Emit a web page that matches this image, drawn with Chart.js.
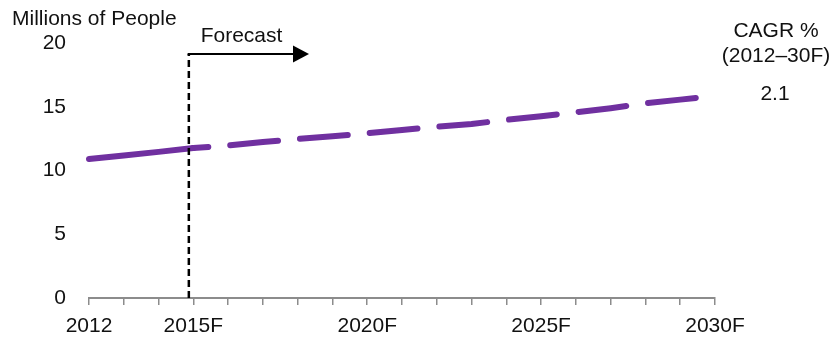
<!DOCTYPE html>
<html>
<head>
<meta charset="utf-8">
<script src="https://cdn.jsdelivr.net/npm/chart.js@4.4.1/dist/chart.umd.min.js"></script>
<style>
  html, body { margin: 0; padding: 0; background: #ffffff; }
  #wrap { position: relative; width: 833px; height: 341px; }
</style>
</head>
<body>
<div id="wrap"><canvas id="c" width="833" height="341"></canvas></div>
<script>
// ---- data ----
const years = ['2012','2013','2014','2015','2016','2017','2018','2019','2020','2021','2022','2023','2024','2025','2026','2027','2028','2029','2030'];
const tickLabels = ['2012','','','2015F','','','','','2020F','','','','','2025F','','','','','2030F'];
const people = [10.9, 11.18, 11.46, 11.76, 11.96, 12.23, 12.47, 12.68, 12.92, 13.18, 13.44, 13.65, 13.97, 14.26, 14.57, 14.89, 15.27, 15.56, 15.86];
const yTicks = [0, 5, 10, 15, 20];
const forecastStartIndex = 3;
const yTitle = 'Millions of People';
const forecastLabel = 'Forecast';
const cagrLines = ['CAGR %', '(2012\u201330F)'];
const cagrValue = '2.1';

const FONT = '"Liberation Sans", Arial, sans-serif';
const FS = 21;
const TEXT = '#111111';
const PURPLE = '#7030A0';
const GRAY = '#8c8c8c';

const annotations = {
  id: 'annotations',
  afterDatasetsDraw(chart) {
    const ctx = chart.ctx;
    const xs = chart.scales.x;
    const ys = chart.scales.y;
    ctx.save();
    // vertical dashed forecast divider
    const vx = xs.getPixelForValue(forecastStartIndex) - 4.5;
    const topY = 54;
    ctx.strokeStyle = '#000';
    ctx.lineWidth = 2.5;
    ctx.setLineDash([7, 4]);
    ctx.beginPath();
    ctx.moveTo(vx, ys.getPixelForValue(0));
    ctx.lineTo(vx, topY);
    ctx.stroke();
    // arrow
    ctx.setLineDash([]);
    ctx.lineWidth = 2;
    ctx.beginPath();
    ctx.moveTo(vx - 1.2, topY);
    ctx.lineTo(295, topY);
    ctx.stroke();
    ctx.fillStyle = '#000';
    ctx.beginPath();
    ctx.moveTo(293, topY - 8.5);
    ctx.lineTo(309, topY);
    ctx.lineTo(293, topY + 8.5);
    ctx.closePath();
    ctx.fill();
    // texts
    ctx.fillStyle = TEXT;
    ctx.font = FS + 'px ' + FONT;
    ctx.textBaseline = 'alphabetic';
    ctx.textAlign = 'center';
    ctx.fillText(forecastLabel, 241.5, 41.5);
    ctx.textAlign = 'left';
    ctx.fillText(yTitle, 12, 25);
    ctx.textAlign = 'center';
    ctx.fillText(cagrLines[0], 776, 36.5);
    ctx.fillText(cagrLines[1], 776, 61.5);
    ctx.fillText(cagrValue, 775, 100);
    ctx.restore();
  }
};

new Chart(document.getElementById('c'), {
  type: 'line',
  data: {
    labels: years,
    datasets: [{
      data: people,
      borderColor: PURPLE,
      borderWidth: 6,
      borderCapStyle: 'round',
      borderJoinStyle: 'round',
      pointRadius: 0,
      tension: 0,
      fill: false,
      segment: {
        borderDash: c => c.p0DataIndex >= forecastStartIndex ? [48, 22] : undefined,
        borderDashOffset: c => c.p0DataIndex >= forecastStartIndex ? 33 : 0
      }
    }]
  },
  options: {
    responsive: false,
    animation: false,
    devicePixelRatio: 1,
    layout: { padding: { left: 0, right: 118, top: 43, bottom: 0 } },
    plugins: { legend: { display: false }, tooltip: { enabled: false }, title: { display: false } },
    scales: {
      x: {
        type: 'category',
        offset: false,
        afterFit(s) { s.height = 43; },
        border: { display: true, color: GRAY, width: 2 },
        grid: { display: true, drawOnChartArea: false, drawTicks: true, tickLength: 7, color: GRAY, lineWidth: 1.5 },
        ticks: {
          autoSkip: false, maxRotation: 0, minRotation: 0, padding: 9,
          color: TEXT, font: { family: FONT, size: FS },
          callback: (v, i) => tickLabels[i]
        }
      },
      y: {
        min: 0, max: 20,
        afterFit(s) { s.width = 89; },
        afterBuildTicks(s) { s.ticks = yTicks.map(v => ({ value: v })); },
        border: { display: false },
        grid: { display: false, drawTicks: false },
        ticks: { padding: 23, color: TEXT, font: { family: FONT, size: FS } }
      }
    }
  },
  plugins: [annotations]
});
</script>
</body>
</html>
